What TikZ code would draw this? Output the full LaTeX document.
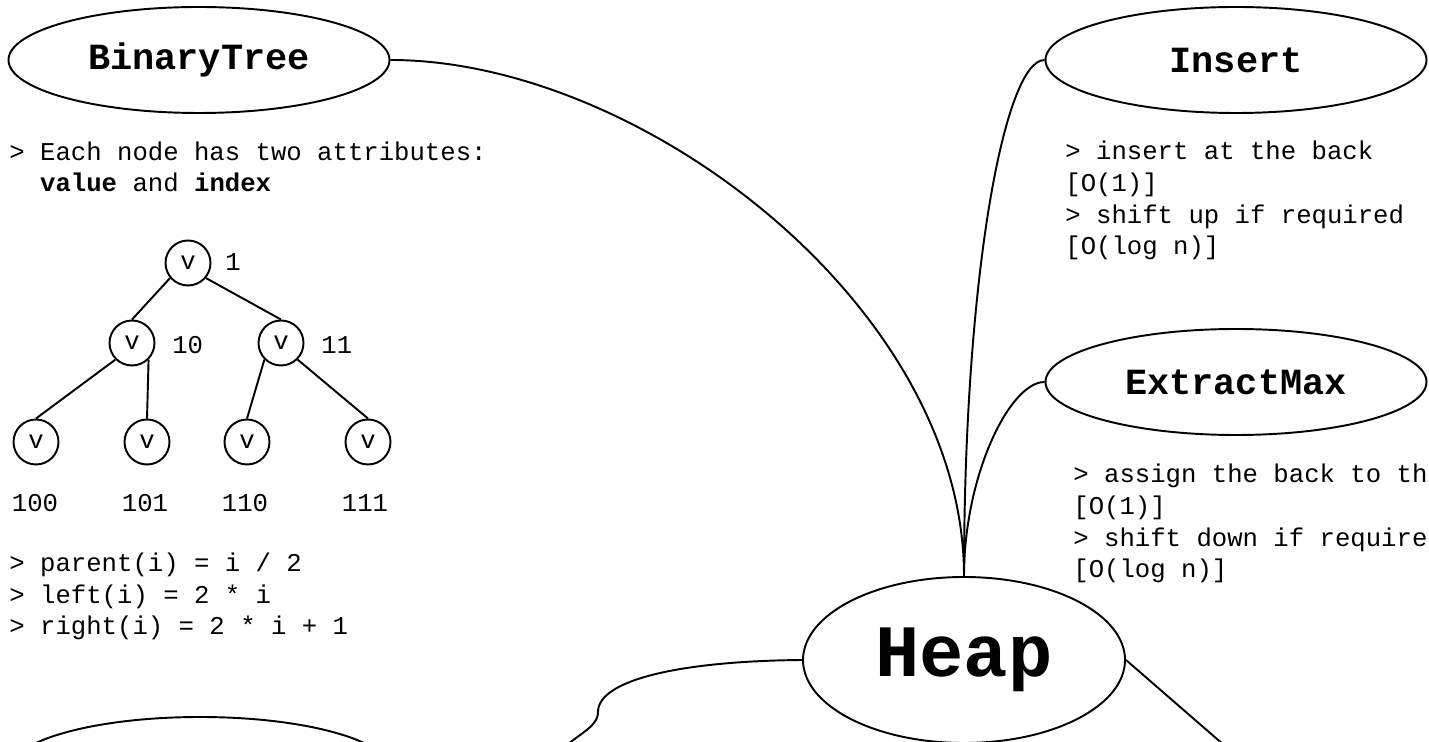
\documentclass[tikz,border=0pt]{standalone}
\usepackage{fontspec}
\setmainfont{Liberation Mono}
\usetikzlibrary{shapes.geometric}

\begin{document}
\begin{tikzpicture}[
        topic/.style={ellipse, draw=black, line width=1.1pt, minimum width=7.62cm, minimum height=2.12cm, inner sep=0pt, font=\fontsize{21}{24}\selectfont\bfseries},
        vnode/.style={circle, draw=black, line width=1.1pt, minimum size=0.9cm, inner sep=0pt, font=\fontsize{14.6}{18.1}\selectfont},
        note/.style={anchor=base west, align=left, inner sep=0pt, font=\fontsize{14.6}{18.1}\selectfont},
        idx/.style={inner sep=0pt, font=\fontsize{14.6}{18.1}\selectfont},
        link/.style={line width=1.1pt}
    ]
    \useasboundingbox (0,0) rectangle (28.58,14.84);
    \clip (0,0) rectangle (28.58,14.84);

    % Topics
    \node (heap) at (19.28,1.64) [topic, minimum width=6.44cm, minimum height=3.32cm, font=\fontsize{42}{48}\selectfont\bfseries] {Heap};
    \node (btree) at (3.98,13.64) [topic] {BinaryTree};
    \node (ins) at (24.72,13.64) [topic] {Insert};
    \node (emax) at (24.72,7.2) [topic] {ExtractMax};
    \node (lower) at (4.0,-0.56) [topic] {};

    % Notes (base = last line)
    \node (btnote) at (0.18,11.0) [note] {> Each node has two attributes:\\
        \hphantom{> }\textbf{value} and \textbf{index}};
    \node (formula) at (0.18,2.14) [note] {> parent(i) = i / 2\\> left(i) = 2 * i\\> right(i) = 2 * i + 1};
    \node (insnote) at (21.3,9.74) [note] {> insert at the back\\{[}O(1)]\\> shift up if required\\{[}O(log n)]};
    \node (emaxnote) at (21.46,3.28) [note] {> assign the back to the root\\{[}O(1)]\\> shift down if required\\{[}O(log n)]};

    % Tree
    \node (v1) at (3.76,9.58) [vnode] {v};
    \node (v10) at (2.64,7.98) [vnode] {v};
    \node (v11) at (5.62,7.98) [vnode] {v};
    \node (v100) at (0.72,6.0) [vnode] {v};
    \node (v101) at (2.94,6.0) [vnode] {v};
    \node (v110) at (4.94,6.0) [vnode] {v};
    \node (v111) at (7.36,6.0) [vnode] {v};
    \draw[link] (v1.-140) -- (v10.north);
    \draw[link] (v1.-40) -- (v11.north);
    \draw[link] (v10.-135) -- (v100.north);
    \draw[link] (v10.-45) -- (v101.north);
    \draw[link] (v11.-135) -- (v110.north);
    \draw[link] (v11.-45) -- (v111.north);

    \node (i1) at (4.5,9.6) [idx, anchor=west] {1};
    \node (i10) at (3.44,7.94) [idx, anchor=west] {10};
    \node (i11) at (6.42,7.94) [idx, anchor=west] {11};
    \node (i100) at (0.7,4.78) [idx] {100};
    \node (i101) at (2.9,4.78) [idx] {101};
    \node (i110) at (4.9,4.78) [idx] {110};
    \node (i111) at (7.3,4.78) [idx] {111};

    % Branches
    \coordinate (leftend) at (11.2,-0.2);
    \coordinate (rightend) at (24.87,-0.4);
    \draw[link] (btree.east) .. controls +(5,0) and +(0,5.4) .. (heap.north);
    \draw[link] (heap.north) .. controls +(0,6) and +(-0.8,0) .. (ins.west);
    \draw[link] (heap.north) .. controls +(0,2) and +(-0.7,0) .. (emax.west);
    \draw[link] (heap.west) .. controls (13.6,1.62) and (11.96,1.24) .. (11.96,0.6)
        .. controls (11.96,0.28) and (11.5,0.14) .. (leftend);
    \draw[link] (heap.east) -- (rightend);
    \end{tikzpicture}
\end{document}
